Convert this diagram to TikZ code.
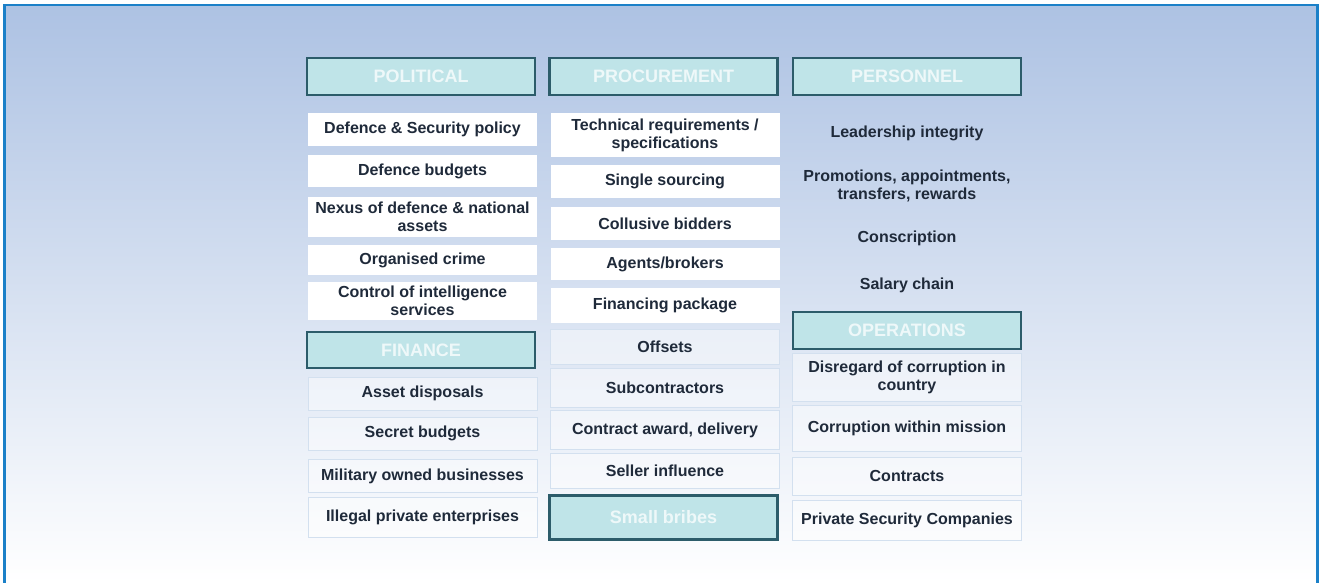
\documentclass[tikz,border=0pt]{standalone}
\usepackage{fontspec}
\setmainfont{Liberation Sans}
\definecolor{frameblue}{HTML}{1B80C8}
\definecolor{bgtop}{HTML}{ADC2E3}
\definecolor{headfill}{HTML}{BFE4E8}
\definecolor{headline}{HTML}{2C5C6A}
\definecolor{headtext}{HTML}{EEF8F9}
\definecolor{ink}{HTML}{1F2A3A}
\definecolor{paleline}{HTML}{D3E0EF}
\begin{document}
\begin{tikzpicture}[x=1pt,y=-1pt,
  head/.style={draw=headline,line width=2.6pt,fill=headfill,text=headtext,
    font=\bfseries\fontsize{18}{20}\selectfont,minimum width=228pt,inner sep=0pt},
  item/.style={fill=white,text=ink,font=\bfseries\fontsize{16}{18}\selectfont,
    align=center,minimum width=229pt,inner xsep=2.5pt,inner ysep=0pt},
  pale/.style={item,fill=white,fill opacity=0.45,text opacity=1,draw=paleline,line width=0.7pt},
  plain/.style={item,fill=none}]
\useasboundingbox (0,0) rectangle (1319,583);
\shade[top color=bgtop,bottom color=white] (4.5,5) rectangle (1317.5,583);
\draw[frameblue,line width=2.6pt] (4.5,583)--(4.5,5)--(1317.5,5)--(1317.5,583);
\node[head,minimum height=37pt] (pol) at (421,76.5) {POLITICAL};
\node[item,minimum height=33pt] (pol1) at (422.5,129.5) {Defence \& Security policy};
\node[item,minimum height=32pt] (pol2) at (422.5,171) {Defence budgets};
\node[item,minimum height=40pt] (pol3) at (422.5,217) {Nexus of defence \& national\\assets};
\node[item,minimum height=30pt] (pol4) at (422.5,260) {Organised crime};
\node[item,minimum height=38pt] (pol5) at (422.5,301) {Control of intelligence\\services};
\node[head,minimum height=36pt] (fin) at (421,350) {FINANCE};
\node[pale,minimum height=33pt] (fin1) at (422.5,393.5) {Asset disposals};
\node[pale,minimum height=33pt] (fin2) at (422.5,433.5) {Secret budgets};
\node[pale,minimum height=33pt] (fin3) at (422.5,476) {Military owned businesses};
\node[pale,minimum height=40pt] (fin4) at (422.5,517) {Illegal private enterprises};
\node[head,minimum height=37pt] (proc) at (663.5,76.5) {PROCUREMENT};
\node[item,minimum height=44pt] (proc1) at (665,135) {Technical requirements /\\specifications};
\node[item,minimum height=33pt] (proc2) at (665,181.5) {Single sourcing};
\node[item,minimum height=33pt] (proc3) at (665,223.5) {Collusive bidders};
\node[item,minimum height=32pt] (proc4) at (665,264) {Agents/brokers};
\node[item,minimum height=35pt] (proc5) at (665,305.5) {Financing package};
\node[pale,minimum height=35pt] (proc6) at (665,346.5) {Offsets};
\node[pale,minimum height=39pt] (proc7) at (665,387.5) {Subcontractors};
\node[pale,minimum height=39pt] (proc8) at (665,430) {Contract award, delivery};
\node[pale,minimum height=35pt] (proc9) at (665,470.5) {Seller influence};
\node[head,minimum height=44pt] (bribe) at (663.5,517.5) {Small bribes};
\node[head,minimum height=37pt] (pers) at (907,76.5) {PERSONNEL};
\node[plain] (pers1) at (907,133) {Leadership integrity};
\node[plain] (pers2) at (907,186) {Promotions, appointments,\\transfers, rewards};
\node[plain] (pers3) at (907,238) {Conscription};
\node[plain] (pers4) at (907,285) {Salary chain};
\node[head,minimum height=37pt] (ops) at (907,330.5) {OPERATIONS};
\node[pale,minimum height=48pt] (ops1) at (907,377.5) {Disregard of corruption in\\country};
\node[pale,minimum height=46pt] (ops2) at (907,428.5) {Corruption within mission};
\node[pale,minimum height=38pt] (ops3) at (907,476) {Contracts};
\node[pale,minimum height=40pt] (ops4) at (907,520) {Private Security Companies};
\end{tikzpicture}
\end{document}
